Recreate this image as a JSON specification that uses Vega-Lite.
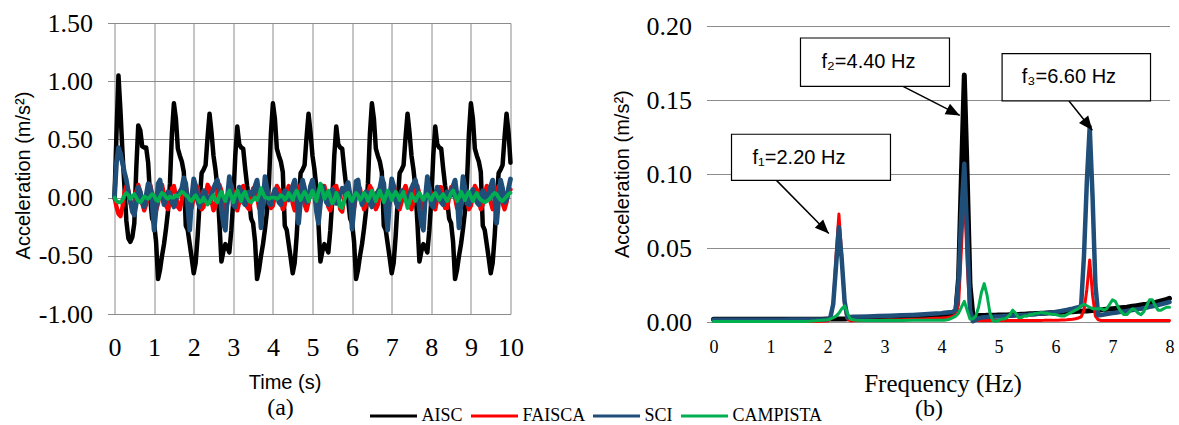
{
"$schema": "https://vega.github.io/schema/vega-lite/v6.json",
"padding": {"left": 12.5, "top": 10, "right": 5, "bottom": 0},
"background": "white",
"bounds": "flush",
"spacing": 203,
"resolve": {"scale": {"color": "shared"}, "legend": {"color": "shared"}},
"datasets": {
"ta": [
{"t":0.00,"AISC":0.00,"FAISCA":0.00,"SCI":0.00,"CAMPISTA":0.00},
{"t":0.05,"AISC":0.55,"FAISCA":-0.08,"SCI":0.30,"CAMPISTA":-0.03},
{"t":0.10,"AISC":1.05,"FAISCA":-0.14,"SCI":0.43,"CAMPISTA":-0.04},
{"t":0.15,"AISC":0.75,"FAISCA":-0.16,"SCI":0.38,"CAMPISTA":-0.04},
{"t":0.20,"AISC":0.40,"FAISCA":-0.08,"SCI":0.30,"CAMPISTA":-0.02},
{"t":0.25,"AISC":0.10,"FAISCA":0.04,"SCI":0.22,"CAMPISTA":0.02},
{"t":0.30,"AISC":-0.20,"FAISCA":0.10,"SCI":0.15,"CAMPISTA":0.04},
{"t":0.35,"AISC":-0.35,"FAISCA":0.06,"SCI":0.05,"CAMPISTA":0.02},
{"t":0.40,"AISC":-0.38,"FAISCA":-0.04,"SCI":-0.03,"CAMPISTA":-0.01},
{"t":0.45,"AISC":-0.34,"FAISCA":-0.10,"SCI":-0.12,"CAMPISTA":0.01},
{"t":0.50,"AISC":-0.22,"FAISCA":-0.07,"SCI":-0.15,"CAMPISTA":0.03},
{"t":0.55,"AISC":0.25,"FAISCA":0.05,"SCI":-0.05,"CAMPISTA":0.00},
{"t":0.60,"AISC":0.62,"FAISCA":0.11,"SCI":0.09,"CAMPISTA":-0.03},
{"t":0.65,"AISC":0.58,"FAISCA":0.05,"SCI":0.05,"CAMPISTA":-0.04},
{"t":0.70,"AISC":0.44,"FAISCA":-0.05,"SCI":-0.04,"CAMPISTA":-0.02},
{"t":0.75,"AISC":0.43,"FAISCA":-0.11,"SCI":-0.08,"CAMPISTA":0.01},
{"t":0.80,"AISC":0.43,"FAISCA":-0.06,"SCI":0.02,"CAMPISTA":0.00},
{"t":0.85,"AISC":0.30,"FAISCA":0.06,"SCI":0.12,"CAMPISTA":-0.01},
{"t":0.90,"AISC":0.00,"FAISCA":0.11,"SCI":0.10,"CAMPISTA":0.01},
{"t":0.95,"AISC":-0.18,"FAISCA":0.04,"SCI":-0.05,"CAMPISTA":0.03},
{"t":1.00,"AISC":-0.22,"FAISCA":-0.06,"SCI":-0.28,"CAMPISTA":0.02},
{"t":1.05,"AISC":-0.38,"FAISCA":-0.11,"SCI":-0.10,"CAMPISTA":-0.02},
{"t":1.10,"AISC":-0.70,"FAISCA":-0.05,"SCI":0.12,"CAMPISTA":-0.03},
{"t":1.15,"AISC":-0.62,"FAISCA":0.07,"SCI":0.15,"CAMPISTA":0.01},
{"t":1.20,"AISC":-0.50,"FAISCA":0.11,"SCI":0.02,"CAMPISTA":0.04},
{"t":1.25,"AISC":-0.40,"FAISCA":0.03,"SCI":-0.06,"CAMPISTA":0.03},
{"t":1.30,"AISC":-0.27,"FAISCA":-0.07,"SCI":-0.02,"CAMPISTA":0.00},
{"t":1.35,"AISC":-0.12,"FAISCA":-0.10,"SCI":0.05,"CAMPISTA":-0.01},
{"t":1.40,"AISC":0.12,"FAISCA":-0.03,"SCI":0.04,"CAMPISTA":0.01},
{"t":1.45,"AISC":0.55,"FAISCA":0.08,"SCI":-0.04,"CAMPISTA":0.00},
{"t":1.50,"AISC":0.81,"FAISCA":0.10,"SCI":-0.08,"CAMPISTA":0.00},
{"t":1.55,"AISC":0.68,"FAISCA":0.02,"SCI":-0.02,"CAMPISTA":0.02},
{"t":1.60,"AISC":0.42,"FAISCA":-0.08,"SCI":0.03,"CAMPISTA":0.01},
{"t":1.65,"AISC":0.36,"FAISCA":-0.10,"SCI":0.05,"CAMPISTA":0.03},
{"t":1.70,"AISC":0.31,"FAISCA":-0.02,"SCI":0.08,"CAMPISTA":0.05},
{"t":1.75,"AISC":0.22,"FAISCA":0.09,"SCI":0.17,"CAMPISTA":0.04},
{"t":1.80,"AISC":-0.24,"FAISCA":0.10,"SCI":0.12,"CAMPISTA":0.02},
{"t":1.85,"AISC":-0.28,"FAISCA":0.01,"SCI":-0.08,"CAMPISTA":0.01},
{"t":1.90,"AISC":-0.40,"FAISCA":-0.09,"SCI":-0.28,"CAMPISTA":-0.02},
{"t":1.95,"AISC":-0.52,"FAISCA":-0.09,"SCI":0.00,"CAMPISTA":-0.03},
{"t":2.00,"AISC":-0.65,"FAISCA":0.00,"SCI":0.16,"CAMPISTA":0.00},
{"t":2.05,"AISC":-0.56,"FAISCA":0.10,"SCI":0.10,"CAMPISTA":0.02},
{"t":2.10,"AISC":-0.33,"FAISCA":0.09,"SCI":-0.03,"CAMPISTA":-0.01},
{"t":2.15,"AISC":-0.04,"FAISCA":-0.01,"SCI":-0.08,"CAMPISTA":-0.04},
{"t":2.20,"AISC":0.21,"FAISCA":-0.10,"SCI":0.00,"CAMPISTA":-0.03},
{"t":2.25,"AISC":0.24,"FAISCA":-0.08,"SCI":0.06,"CAMPISTA":0.00},
{"t":2.30,"AISC":0.28,"FAISCA":0.02,"SCI":0.04,"CAMPISTA":-0.03},
{"t":2.35,"AISC":0.52,"FAISCA":0.11,"SCI":-0.02,"CAMPISTA":-0.06},
{"t":2.40,"AISC":0.72,"FAISCA":0.08,"SCI":-0.04,"CAMPISTA":-0.04},
{"t":2.45,"AISC":0.56,"FAISCA":-0.03,"SCI":0.02,"CAMPISTA":0.00},
{"t":2.50,"AISC":0.36,"FAISCA":-0.11,"SCI":0.08,"CAMPISTA":0.02},
{"t":2.55,"AISC":0.24,"FAISCA":-0.07,"SCI":0.12,"CAMPISTA":-0.02},
{"t":2.60,"AISC":0.08,"FAISCA":0.04,"SCI":0.15,"CAMPISTA":-0.04},
{"t":2.65,"AISC":-0.22,"FAISCA":0.11,"SCI":0.06,"CAMPISTA":0.02},
{"t":2.70,"AISC":-0.55,"FAISCA":0.06,"SCI":-0.10,"CAMPISTA":0.05},
{"t":2.75,"AISC":-0.46,"FAISCA":-0.05,"SCI":-0.22,"CAMPISTA":0.01},
{"t":2.80,"AISC":-0.40,"FAISCA":-0.11,"SCI":-0.28,"CAMPISTA":-0.03},
{"t":2.85,"AISC":-0.43,"FAISCA":-0.05,"SCI":0.00,"CAMPISTA":0.03},
{"t":2.90,"AISC":-0.47,"FAISCA":0.06,"SCI":0.18,"CAMPISTA":0.06},
{"t":2.95,"AISC":-0.28,"FAISCA":0.11,"SCI":0.06,"CAMPISTA":0.01},
{"t":3.00,"AISC":-0.02,"FAISCA":0.04,"SCI":-0.06,"CAMPISTA":-0.04},
{"t":3.05,"AISC":0.36,"FAISCA":-0.06,"SCI":-0.08,"CAMPISTA":0.02},
{"t":3.10,"AISC":0.61,"FAISCA":-0.11,"SCI":0.02,"CAMPISTA":0.06},
{"t":3.15,"AISC":0.46,"FAISCA":-0.04,"SCI":0.09,"CAMPISTA":0.02},
{"t":3.20,"AISC":0.43,"FAISCA":0.07,"SCI":0.05,"CAMPISTA":-0.03},
{"t":3.25,"AISC":0.42,"FAISCA":0.10,"SCI":-0.04,"CAMPISTA":0.03},
{"t":3.30,"AISC":0.25,"FAISCA":0.02,"SCI":-0.06,"CAMPISTA":0.05},
{"t":3.35,"AISC":0.10,"FAISCA":-0.08,"SCI":0.01,"CAMPISTA":0.00},
{"t":3.40,"AISC":-0.02,"FAISCA":-0.10,"SCI":0.05,"CAMPISTA":-0.03},
{"t":3.45,"AISC":-0.18,"FAISCA":-0.02,"SCI":0.03,"CAMPISTA":-0.04},
{"t":3.50,"AISC":-0.22,"FAISCA":0.08,"SCI":0.02,"CAMPISTA":-0.02},
{"t":3.55,"AISC":-0.38,"FAISCA":0.09,"SCI":0.10,"CAMPISTA":0.00},
{"t":3.60,"AISC":-0.70,"FAISCA":0.01,"SCI":0.15,"CAMPISTA":-0.02},
{"t":3.65,"AISC":-0.62,"FAISCA":-0.09,"SCI":0.02,"CAMPISTA":0.02},
{"t":3.70,"AISC":-0.50,"FAISCA":-0.09,"SCI":-0.26,"CAMPISTA":0.08},
{"t":3.75,"AISC":-0.40,"FAISCA":0.00,"SCI":-0.05,"CAMPISTA":0.04},
{"t":3.80,"AISC":-0.27,"FAISCA":0.09,"SCI":0.18,"CAMPISTA":0.00},
{"t":3.85,"AISC":-0.12,"FAISCA":0.08,"SCI":0.08,"CAMPISTA":0.00},
{"t":3.90,"AISC":0.12,"FAISCA":-0.01,"SCI":-0.05,"CAMPISTA":-0.01},
{"t":3.95,"AISC":0.55,"FAISCA":-0.09,"SCI":-0.06,"CAMPISTA":0.00},
{"t":4.00,"AISC":0.81,"FAISCA":-0.07,"SCI":0.02,"CAMPISTA":0.00},
{"t":4.05,"AISC":0.68,"FAISCA":0.02,"SCI":0.07,"CAMPISTA":0.00},
{"t":4.10,"AISC":0.42,"FAISCA":0.10,"SCI":0.03,"CAMPISTA":-0.01},
{"t":4.15,"AISC":0.36,"FAISCA":0.07,"SCI":-0.04,"CAMPISTA":0.00},
{"t":4.20,"AISC":0.31,"FAISCA":-0.03,"SCI":-0.06,"CAMPISTA":0.02},
{"t":4.25,"AISC":0.22,"FAISCA":-0.10,"SCI":0.00,"CAMPISTA":0.01},
{"t":4.30,"AISC":-0.24,"FAISCA":-0.06,"SCI":0.06,"CAMPISTA":-0.02},
{"t":4.35,"AISC":-0.28,"FAISCA":0.04,"SCI":0.04,"CAMPISTA":0.00},
{"t":4.40,"AISC":-0.40,"FAISCA":0.10,"SCI":-0.02,"CAMPISTA":0.04},
{"t":4.45,"AISC":-0.52,"FAISCA":0.05,"SCI":0.02,"CAMPISTA":0.01},
{"t":4.50,"AISC":-0.65,"FAISCA":-0.05,"SCI":0.10,"CAMPISTA":-0.02},
{"t":4.55,"AISC":-0.56,"FAISCA":-0.11,"SCI":0.15,"CAMPISTA":0.03},
{"t":4.60,"AISC":-0.33,"FAISCA":-0.05,"SCI":0.00,"CAMPISTA":0.06},
{"t":4.65,"AISC":-0.04,"FAISCA":0.06,"SCI":-0.22,"CAMPISTA":0.02},
{"t":4.70,"AISC":0.21,"FAISCA":0.11,"SCI":-0.02,"CAMPISTA":-0.02},
{"t":4.75,"AISC":0.24,"FAISCA":0.04,"SCI":0.15,"CAMPISTA":0.02},
{"t":4.80,"AISC":0.28,"FAISCA":-0.06,"SCI":0.08,"CAMPISTA":0.05},
{"t":4.85,"AISC":0.52,"FAISCA":-0.11,"SCI":-0.04,"CAMPISTA":0.02},
{"t":4.90,"AISC":0.72,"FAISCA":-0.04,"SCI":-0.02,"CAMPISTA":-0.03},
{"t":4.95,"AISC":0.56,"FAISCA":0.07,"SCI":0.10,"CAMPISTA":0.02},
{"t":5.00,"AISC":0.36,"FAISCA":0.11,"SCI":0.15,"CAMPISTA":0.06},
{"t":5.05,"AISC":0.24,"FAISCA":0.03,"SCI":0.05,"CAMPISTA":0.01},
{"t":5.10,"AISC":0.08,"FAISCA":-0.07,"SCI":-0.12,"CAMPISTA":-0.03},
{"t":5.15,"AISC":-0.22,"FAISCA":-0.11,"SCI":-0.22,"CAMPISTA":0.05},
{"t":5.20,"AISC":-0.55,"FAISCA":-0.03,"SCI":-0.05,"CAMPISTA":0.12},
{"t":5.25,"AISC":-0.46,"FAISCA":0.08,"SCI":0.10,"CAMPISTA":0.06},
{"t":5.30,"AISC":-0.40,"FAISCA":0.10,"SCI":0.05,"CAMPISTA":-0.01},
{"t":5.35,"AISC":-0.43,"FAISCA":0.02,"SCI":-0.04,"CAMPISTA":0.02},
{"t":5.40,"AISC":-0.47,"FAISCA":-0.08,"SCI":-0.06,"CAMPISTA":0.06},
{"t":5.45,"AISC":-0.28,"FAISCA":-0.11,"SCI":0.02,"CAMPISTA":0.00},
{"t":5.50,"AISC":-0.02,"FAISCA":-0.02,"SCI":0.07,"CAMPISTA":-0.05},
{"t":5.55,"AISC":0.36,"FAISCA":0.09,"SCI":0.03,"CAMPISTA":-0.02},
{"t":5.60,"AISC":0.61,"FAISCA":0.10,"SCI":-0.05,"CAMPISTA":0.04},
{"t":5.65,"AISC":0.46,"FAISCA":0.01,"SCI":-0.04,"CAMPISTA":0.00},
{"t":5.70,"AISC":0.43,"FAISCA":-0.10,"SCI":0.03,"CAMPISTA":-0.08},
{"t":5.75,"AISC":0.42,"FAISCA":-0.12,"SCI":0.08,"CAMPISTA":-0.09},
{"t":5.80,"AISC":0.25,"FAISCA":-0.01,"SCI":0.05,"CAMPISTA":-0.03},
{"t":5.85,"AISC":0.10,"FAISCA":0.10,"SCI":0.10,"CAMPISTA":0.03},
{"t":5.90,"AISC":-0.02,"FAISCA":0.09,"SCI":0.13,"CAMPISTA":0.04},
{"t":5.95,"AISC":-0.18,"FAISCA":-0.01,"SCI":0.02,"CAMPISTA":0.00},
{"t":6.00,"AISC":-0.22,"FAISCA":-0.10,"SCI":-0.27,"CAMPISTA":-0.03},
{"t":6.05,"AISC":-0.38,"FAISCA":-0.09,"SCI":-0.08,"CAMPISTA":0.01},
{"t":6.10,"AISC":-0.70,"FAISCA":0.01,"SCI":0.14,"CAMPISTA":0.04},
{"t":6.15,"AISC":-0.62,"FAISCA":0.10,"SCI":0.15,"CAMPISTA":0.02},
{"t":6.20,"AISC":-0.50,"FAISCA":0.08,"SCI":0.02,"CAMPISTA":-0.02},
{"t":6.25,"AISC":-0.40,"FAISCA":-0.02,"SCI":-0.06,"CAMPISTA":0.00},
{"t":6.30,"AISC":-0.27,"FAISCA":-0.10,"SCI":-0.02,"CAMPISTA":0.04},
{"t":6.35,"AISC":-0.12,"FAISCA":-0.07,"SCI":0.05,"CAMPISTA":0.02},
{"t":6.40,"AISC":0.12,"FAISCA":0.03,"SCI":0.04,"CAMPISTA":-0.03},
{"t":6.45,"AISC":0.55,"FAISCA":0.10,"SCI":-0.04,"CAMPISTA":0.01},
{"t":6.50,"AISC":0.81,"FAISCA":0.07,"SCI":-0.08,"CAMPISTA":0.06},
{"t":6.55,"AISC":0.68,"FAISCA":-0.03,"SCI":-0.02,"CAMPISTA":0.02},
{"t":6.60,"AISC":0.42,"FAISCA":-0.10,"SCI":0.03,"CAMPISTA":-0.03},
{"t":6.65,"AISC":0.36,"FAISCA":-0.06,"SCI":0.05,"CAMPISTA":0.02},
{"t":6.70,"AISC":0.31,"FAISCA":0.04,"SCI":0.08,"CAMPISTA":0.06},
{"t":6.75,"AISC":0.22,"FAISCA":0.10,"SCI":0.17,"CAMPISTA":0.01},
{"t":6.80,"AISC":-0.24,"FAISCA":0.06,"SCI":0.12,"CAMPISTA":-0.04},
{"t":6.85,"AISC":-0.28,"FAISCA":-0.04,"SCI":-0.08,"CAMPISTA":0.01},
{"t":6.90,"AISC":-0.40,"FAISCA":-0.10,"SCI":-0.28,"CAMPISTA":0.06},
{"t":6.95,"AISC":-0.52,"FAISCA":-0.05,"SCI":0.00,"CAMPISTA":0.03},
{"t":7.00,"AISC":-0.65,"FAISCA":0.05,"SCI":0.16,"CAMPISTA":-0.02},
{"t":7.05,"AISC":-0.56,"FAISCA":0.10,"SCI":0.10,"CAMPISTA":0.02},
{"t":7.10,"AISC":-0.33,"FAISCA":0.05,"SCI":-0.03,"CAMPISTA":0.05},
{"t":7.15,"AISC":-0.04,"FAISCA":-0.05,"SCI":-0.08,"CAMPISTA":0.02},
{"t":7.20,"AISC":0.21,"FAISCA":-0.10,"SCI":0.00,"CAMPISTA":-0.02},
{"t":7.25,"AISC":0.24,"FAISCA":-0.04,"SCI":0.06,"CAMPISTA":0.02},
{"t":7.30,"AISC":0.28,"FAISCA":0.06,"SCI":0.04,"CAMPISTA":0.05},
{"t":7.35,"AISC":0.52,"FAISCA":0.10,"SCI":-0.02,"CAMPISTA":-0.02},
{"t":7.40,"AISC":0.72,"FAISCA":0.04,"SCI":-0.04,"CAMPISTA":-0.09},
{"t":7.45,"AISC":0.56,"FAISCA":-0.06,"SCI":0.02,"CAMPISTA":-0.04},
{"t":7.50,"AISC":0.36,"FAISCA":-0.10,"SCI":0.08,"CAMPISTA":0.03},
{"t":7.55,"AISC":0.24,"FAISCA":-0.03,"SCI":0.12,"CAMPISTA":0.00},
{"t":7.60,"AISC":0.08,"FAISCA":0.07,"SCI":0.15,"CAMPISTA":-0.03},
{"t":7.65,"AISC":-0.22,"FAISCA":0.10,"SCI":0.06,"CAMPISTA":0.01},
{"t":7.70,"AISC":-0.55,"FAISCA":0.03,"SCI":-0.10,"CAMPISTA":0.04},
{"t":7.75,"AISC":-0.46,"FAISCA":-0.07,"SCI":-0.22,"CAMPISTA":0.01},
{"t":7.80,"AISC":-0.40,"FAISCA":-0.10,"SCI":-0.28,"CAMPISTA":-0.02},
{"t":7.85,"AISC":-0.43,"FAISCA":-0.02,"SCI":0.00,"CAMPISTA":0.01},
{"t":7.90,"AISC":-0.47,"FAISCA":0.08,"SCI":0.18,"CAMPISTA":0.03},
{"t":7.95,"AISC":-0.28,"FAISCA":0.09,"SCI":0.06,"CAMPISTA":0.00},
{"t":8.00,"AISC":-0.02,"FAISCA":0.02,"SCI":-0.06,"CAMPISTA":-0.02},
{"t":8.05,"AISC":0.36,"FAISCA":-0.08,"SCI":-0.08,"CAMPISTA":0.02},
{"t":8.10,"AISC":0.61,"FAISCA":-0.10,"SCI":0.02,"CAMPISTA":0.04},
{"t":8.15,"AISC":0.46,"FAISCA":-0.01,"SCI":0.09,"CAMPISTA":0.01},
{"t":8.20,"AISC":0.43,"FAISCA":0.09,"SCI":0.05,"CAMPISTA":-0.02},
{"t":8.25,"AISC":0.42,"FAISCA":0.09,"SCI":-0.04,"CAMPISTA":0.01},
{"t":8.30,"AISC":0.25,"FAISCA":0.01,"SCI":-0.06,"CAMPISTA":0.03},
{"t":8.35,"AISC":0.10,"FAISCA":-0.09,"SCI":0.01,"CAMPISTA":0.00},
{"t":8.40,"AISC":-0.02,"FAISCA":-0.09,"SCI":0.05,"CAMPISTA":-0.03},
{"t":8.45,"AISC":-0.18,"FAISCA":0.00,"SCI":0.03,"CAMPISTA":0.00},
{"t":8.50,"AISC":-0.22,"FAISCA":0.09,"SCI":0.02,"CAMPISTA":0.04},
{"t":8.55,"AISC":-0.38,"FAISCA":0.08,"SCI":0.10,"CAMPISTA":0.06},
{"t":8.60,"AISC":-0.70,"FAISCA":0.00,"SCI":0.15,"CAMPISTA":0.02},
{"t":8.65,"AISC":-0.62,"FAISCA":-0.09,"SCI":0.02,"CAMPISTA":-0.03},
{"t":8.70,"AISC":-0.50,"FAISCA":-0.08,"SCI":-0.26,"CAMPISTA":0.00},
{"t":8.75,"AISC":-0.40,"FAISCA":0.01,"SCI":-0.05,"CAMPISTA":0.05},
{"t":8.80,"AISC":-0.27,"FAISCA":0.10,"SCI":0.18,"CAMPISTA":0.02},
{"t":8.85,"AISC":-0.12,"FAISCA":0.07,"SCI":0.08,"CAMPISTA":-0.02},
{"t":8.90,"AISC":0.12,"FAISCA":-0.02,"SCI":-0.05,"CAMPISTA":0.02},
{"t":8.95,"AISC":0.55,"FAISCA":-0.10,"SCI":-0.06,"CAMPISTA":0.05},
{"t":9.00,"AISC":0.81,"FAISCA":-0.07,"SCI":0.02,"CAMPISTA":0.01},
{"t":9.05,"AISC":0.68,"FAISCA":0.02,"SCI":0.07,"CAMPISTA":-0.03},
{"t":9.10,"AISC":0.42,"FAISCA":0.10,"SCI":0.03,"CAMPISTA":0.01},
{"t":9.15,"AISC":0.36,"FAISCA":0.07,"SCI":-0.04,"CAMPISTA":0.04},
{"t":9.20,"AISC":0.31,"FAISCA":-0.03,"SCI":-0.06,"CAMPISTA":0.00},
{"t":9.25,"AISC":0.22,"FAISCA":-0.10,"SCI":0.00,"CAMPISTA":-0.02},
{"t":9.30,"AISC":-0.24,"FAISCA":-0.06,"SCI":0.06,"CAMPISTA":-0.03},
{"t":9.35,"AISC":-0.28,"FAISCA":0.03,"SCI":0.04,"CAMPISTA":-0.04},
{"t":9.40,"AISC":-0.40,"FAISCA":0.10,"SCI":-0.02,"CAMPISTA":-0.03},
{"t":9.45,"AISC":-0.52,"FAISCA":0.06,"SCI":0.02,"CAMPISTA":-0.02},
{"t":9.50,"AISC":-0.65,"FAISCA":-0.04,"SCI":0.10,"CAMPISTA":0.00},
{"t":9.55,"AISC":-0.56,"FAISCA":-0.10,"SCI":0.15,"CAMPISTA":0.02},
{"t":9.60,"AISC":-0.33,"FAISCA":-0.05,"SCI":0.00,"CAMPISTA":0.04},
{"t":9.65,"AISC":-0.04,"FAISCA":0.04,"SCI":-0.22,"CAMPISTA":0.03},
{"t":9.70,"AISC":0.21,"FAISCA":0.10,"SCI":-0.02,"CAMPISTA":0.00},
{"t":9.75,"AISC":0.24,"FAISCA":0.05,"SCI":0.15,"CAMPISTA":-0.02},
{"t":9.80,"AISC":0.28,"FAISCA":-0.05,"SCI":0.08,"CAMPISTA":-0.03},
{"t":9.85,"AISC":0.52,"FAISCA":-0.10,"SCI":-0.04,"CAMPISTA":-0.01},
{"t":9.90,"AISC":0.72,"FAISCA":-0.04,"SCI":-0.02,"CAMPISTA":0.01},
{"t":9.95,"AISC":0.56,"FAISCA":0.05,"SCI":0.08,"CAMPISTA":0.03},
{"t":10.00,"AISC":0.30,"FAISCA":0.07,"SCI":0.16,"CAMPISTA":0.04}
],
"fb": [
{"f":0.0,"AISC":0.0018,"FAISCA":0.0003,"SCI":0.0016,"CAMPISTA":0.0003},
{"f":0.2,"AISC":0.0018,"FAISCA":0.0003,"SCI":0.0016,"CAMPISTA":0.0003},
{"f":0.4,"AISC":0.0018,"FAISCA":0.0003,"SCI":0.0016,"CAMPISTA":0.0003},
{"f":0.6,"AISC":0.0018,"FAISCA":0.0003,"SCI":0.0016,"CAMPISTA":0.0003},
{"f":0.8,"AISC":0.0018,"FAISCA":0.0003,"SCI":0.0016,"CAMPISTA":0.0003},
{"f":1.0,"AISC":0.0018,"FAISCA":0.0003,"SCI":0.0016,"CAMPISTA":0.0003},
{"f":1.2,"AISC":0.0018,"FAISCA":0.0003,"SCI":0.0016,"CAMPISTA":0.0003},
{"f":1.4,"AISC":0.0019,"FAISCA":0.0003,"SCI":0.0017,"CAMPISTA":0.0003},
{"f":1.6,"AISC":0.0019,"FAISCA":0.0004,"SCI":0.0017,"CAMPISTA":0.0003},
{"f":1.7,"AISC":0.0019,"FAISCA":0.0004,"SCI":0.0017,"CAMPISTA":0.0005},
{"f":1.8,"AISC":0.0019,"FAISCA":0.0004,"SCI":0.0017,"CAMPISTA":0.0008},
{"f":1.9,"AISC":0.0019,"FAISCA":0.0005,"SCI":0.0017,"CAMPISTA":0.0012},
{"f":2.0,"AISC":0.0020,"FAISCA":0.0006,"SCI":0.0018,"CAMPISTA":0.0015},
{"f":2.05,"AISC":0.0020,"FAISCA":0.002,"SCI":0.003,"CAMPISTA":0.002},
{"f":2.10,"AISC":0.0020,"FAISCA":0.012,"SCI":0.012,"CAMPISTA":0.003},
{"f":2.15,"AISC":0.0020,"FAISCA":0.045,"SCI":0.038,"CAMPISTA":0.004},
{"f":2.20,"AISC":0.0021,"FAISCA":0.073,"SCI":0.064,"CAMPISTA":0.006},
{"f":2.25,"AISC":0.0021,"FAISCA":0.045,"SCI":0.042,"CAMPISTA":0.009},
{"f":2.30,"AISC":0.0021,"FAISCA":0.010,"SCI":0.014,"CAMPISTA":0.011},
{"f":2.35,"AISC":0.0022,"FAISCA":0.002,"SCI":0.003,"CAMPISTA":0.006},
{"f":2.40,"AISC":0.0022,"FAISCA":0.0009,"SCI":0.0034,"CAMPISTA":0.002},
{"f":2.45,"AISC":0.0022,"FAISCA":0.0009,"SCI":0.0035,"CAMPISTA":0.0015},
{"f":2.5,"AISC":0.0023,"FAISCA":0.0010,"SCI":0.0036,"CAMPISTA":0.0012},
{"f":2.7,"AISC":0.0024,"FAISCA":0.0011,"SCI":0.0038,"CAMPISTA":0.0010},
{"f":2.9,"AISC":0.0025,"FAISCA":0.0012,"SCI":0.0040,"CAMPISTA":0.0010},
{"f":3.1,"AISC":0.0026,"FAISCA":0.0014,"SCI":0.0042,"CAMPISTA":0.0011},
{"f":3.3,"AISC":0.0028,"FAISCA":0.0016,"SCI":0.0045,"CAMPISTA":0.0010},
{"f":3.5,"AISC":0.0030,"FAISCA":0.0018,"SCI":0.0048,"CAMPISTA":0.0012},
{"f":3.7,"AISC":0.0033,"FAISCA":0.0021,"SCI":0.0052,"CAMPISTA":0.0011},
{"f":3.9,"AISC":0.0036,"FAISCA":0.0025,"SCI":0.0057,"CAMPISTA":0.0012},
{"f":4.0,"AISC":0.0038,"FAISCA":0.0027,"SCI":0.0060,"CAMPISTA":0.0012},
{"f":4.05,"AISC":0.0040,"FAISCA":0.0029,"SCI":0.0062,"CAMPISTA":0.0012},
{"f":4.10,"AISC":0.0042,"FAISCA":0.0031,"SCI":0.0064,"CAMPISTA":0.0015},
{"f":4.15,"AISC":0.0045,"FAISCA":0.0034,"SCI":0.0066,"CAMPISTA":0.002},
{"f":4.20,"AISC":0.0050,"FAISCA":0.0038,"SCI":0.0068,"CAMPISTA":0.003},
{"f":4.25,"AISC":0.0065,"FAISCA":0.005,"SCI":0.0085,"CAMPISTA":0.004},
{"f":4.30,"AISC":0.030,"FAISCA":0.012,"SCI":0.028,"CAMPISTA":0.006},
{"f":4.35,"AISC":0.100,"FAISCA":0.050,"SCI":0.075,"CAMPISTA":0.010},
{"f":4.40,"AISC":0.167,"FAISCA":0.090,"SCI":0.107,"CAMPISTA":0.014},
{"f":4.45,"AISC":0.100,"FAISCA":0.040,"SCI":0.060,"CAMPISTA":0.008},
{"f":4.50,"AISC":0.025,"FAISCA":0.004,"SCI":0.008,"CAMPISTA":0.002},
{"f":4.55,"AISC":0.0048,"FAISCA":0.001,"SCI":0.0005,"CAMPISTA":0.002},
{"f":4.60,"AISC":0.0045,"FAISCA":0.001,"SCI":0.0015,"CAMPISTA":0.004},
{"f":4.65,"AISC":0.0044,"FAISCA":0.001,"SCI":0.0025,"CAMPISTA":0.010},
{"f":4.70,"AISC":0.0044,"FAISCA":0.001,"SCI":0.0030,"CAMPISTA":0.020},
{"f":4.75,"AISC":0.0044,"FAISCA":0.001,"SCI":0.0032,"CAMPISTA":0.026},
{"f":4.80,"AISC":0.0045,"FAISCA":0.001,"SCI":0.0034,"CAMPISTA":0.018},
{"f":4.85,"AISC":0.0045,"FAISCA":0.001,"SCI":0.0035,"CAMPISTA":0.006},
{"f":4.90,"AISC":0.0046,"FAISCA":0.001,"SCI":0.0036,"CAMPISTA":0.001},
{"f":4.95,"AISC":0.0046,"FAISCA":0.001,"SCI":0.0037,"CAMPISTA":0.0005},
{"f":5.00,"AISC":0.0047,"FAISCA":0.001,"SCI":0.0038,"CAMPISTA":0.001},
{"f":5.05,"AISC":0.0047,"FAISCA":0.001,"SCI":0.0039,"CAMPISTA":0.002},
{"f":5.10,"AISC":0.0048,"FAISCA":0.001,"SCI":0.0040,"CAMPISTA":0.002},
{"f":5.15,"AISC":0.0048,"FAISCA":0.001,"SCI":0.0041,"CAMPISTA":0.003},
{"f":5.20,"AISC":0.0049,"FAISCA":0.001,"SCI":0.0042,"CAMPISTA":0.005},
{"f":5.25,"AISC":0.0050,"FAISCA":0.001,"SCI":0.0043,"CAMPISTA":0.008},
{"f":5.30,"AISC":0.0050,"FAISCA":0.001,"SCI":0.0044,"CAMPISTA":0.006},
{"f":5.35,"AISC":0.0051,"FAISCA":0.001,"SCI":0.0045,"CAMPISTA":0.003},
{"f":5.40,"AISC":0.0052,"FAISCA":0.001,"SCI":0.0046,"CAMPISTA":0.003},
{"f":5.45,"AISC":0.0053,"FAISCA":0.001,"SCI":0.0047,"CAMPISTA":0.004},
{"f":5.50,"AISC":0.0054,"FAISCA":0.001,"SCI":0.0048,"CAMPISTA":0.004},
{"f":5.55,"AISC":0.0055,"FAISCA":0.001,"SCI":0.0050,"CAMPISTA":0.005},
{"f":5.60,"AISC":0.0056,"FAISCA":0.001,"SCI":0.0051,"CAMPISTA":0.005},
{"f":5.65,"AISC":0.0057,"FAISCA":0.001,"SCI":0.0053,"CAMPISTA":0.006},
{"f":5.70,"AISC":0.0058,"FAISCA":0.001,"SCI":0.0055,"CAMPISTA":0.006},
{"f":5.75,"AISC":0.0059,"FAISCA":0.001,"SCI":0.0057,"CAMPISTA":0.0065},
{"f":5.80,"AISC":0.0060,"FAISCA":0.0011,"SCI":0.0059,"CAMPISTA":0.006},
{"f":5.85,"AISC":0.0061,"FAISCA":0.0011,"SCI":0.0061,"CAMPISTA":0.006},
{"f":5.90,"AISC":0.0062,"FAISCA":0.0011,"SCI":0.0063,"CAMPISTA":0.0055},
{"f":5.95,"AISC":0.0063,"FAISCA":0.0011,"SCI":0.0065,"CAMPISTA":0.005},
{"f":6.00,"AISC":0.0064,"FAISCA":0.0012,"SCI":0.0068,"CAMPISTA":0.005},
{"f":6.05,"AISC":0.0065,"FAISCA":0.0012,"SCI":0.0071,"CAMPISTA":0.0045},
{"f":6.10,"AISC":0.0066,"FAISCA":0.0013,"SCI":0.0074,"CAMPISTA":0.004},
{"f":6.15,"AISC":0.0067,"FAISCA":0.0014,"SCI":0.0078,"CAMPISTA":0.004},
{"f":6.20,"AISC":0.0068,"FAISCA":0.0015,"SCI":0.0082,"CAMPISTA":0.005},
{"f":6.25,"AISC":0.0069,"FAISCA":0.0017,"SCI":0.0086,"CAMPISTA":0.006},
{"f":6.30,"AISC":0.0070,"FAISCA":0.0019,"SCI":0.0090,"CAMPISTA":0.007},
{"f":6.35,"AISC":0.0071,"FAISCA":0.0022,"SCI":0.0095,"CAMPISTA":0.008},
{"f":6.40,"AISC":0.0072,"FAISCA":0.0027,"SCI":0.0100,"CAMPISTA":0.009},
{"f":6.45,"AISC":0.0073,"FAISCA":0.0035,"SCI":0.0110,"CAMPISTA":0.011},
{"f":6.50,"AISC":0.0074,"FAISCA":0.008,"SCI":0.045,"CAMPISTA":0.012},
{"f":6.55,"AISC":0.0075,"FAISCA":0.022,"SCI":0.095,"CAMPISTA":0.011},
{"f":6.60,"AISC":0.0076,"FAISCA":0.042,"SCI":0.132,"CAMPISTA":0.010},
{"f":6.65,"AISC":0.0077,"FAISCA":0.018,"SCI":0.085,"CAMPISTA":0.009},
{"f":6.70,"AISC":0.0078,"FAISCA":0.004,"SCI":0.025,"CAMPISTA":0.009},
{"f":6.75,"AISC":0.0080,"FAISCA":0.0015,"SCI":0.0045,"CAMPISTA":0.009},
{"f":6.80,"AISC":0.0082,"FAISCA":0.001,"SCI":0.0048,"CAMPISTA":0.009},
{"f":6.85,"AISC":0.0084,"FAISCA":0.001,"SCI":0.0051,"CAMPISTA":0.008},
{"f":6.90,"AISC":0.0086,"FAISCA":0.001,"SCI":0.0054,"CAMPISTA":0.009},
{"f":6.95,"AISC":0.0088,"FAISCA":0.001,"SCI":0.0057,"CAMPISTA":0.012},
{"f":7.00,"AISC":0.0090,"FAISCA":0.001,"SCI":0.0060,"CAMPISTA":0.015},
{"f":7.05,"AISC":0.0092,"FAISCA":0.001,"SCI":0.0063,"CAMPISTA":0.014},
{"f":7.10,"AISC":0.0094,"FAISCA":0.001,"SCI":0.0066,"CAMPISTA":0.010},
{"f":7.15,"AISC":0.0096,"FAISCA":0.001,"SCI":0.0069,"CAMPISTA":0.007},
{"f":7.20,"AISC":0.0098,"FAISCA":0.001,"SCI":0.0072,"CAMPISTA":0.005},
{"f":7.25,"AISC":0.0100,"FAISCA":0.001,"SCI":0.0075,"CAMPISTA":0.005},
{"f":7.30,"AISC":0.0103,"FAISCA":0.001,"SCI":0.0078,"CAMPISTA":0.007},
{"f":7.35,"AISC":0.0106,"FAISCA":0.001,"SCI":0.0081,"CAMPISTA":0.009},
{"f":7.40,"AISC":0.0109,"FAISCA":0.001,"SCI":0.0084,"CAMPISTA":0.008},
{"f":7.45,"AISC":0.0112,"FAISCA":0.001,"SCI":0.0087,"CAMPISTA":0.006},
{"f":7.50,"AISC":0.0115,"FAISCA":0.001,"SCI":0.0090,"CAMPISTA":0.005},
{"f":7.55,"AISC":0.0118,"FAISCA":0.001,"SCI":0.0094,"CAMPISTA":0.007},
{"f":7.60,"AISC":0.0121,"FAISCA":0.001,"SCI":0.0098,"CAMPISTA":0.011},
{"f":7.65,"AISC":0.0125,"FAISCA":0.001,"SCI":0.0102,"CAMPISTA":0.015},
{"f":7.70,"AISC":0.0129,"FAISCA":0.001,"SCI":0.0106,"CAMPISTA":0.015},
{"f":7.75,"AISC":0.0133,"FAISCA":0.001,"SCI":0.0110,"CAMPISTA":0.011},
{"f":7.80,"AISC":0.0138,"FAISCA":0.001,"SCI":0.0115,"CAMPISTA":0.008},
{"f":7.85,"AISC":0.0143,"FAISCA":0.001,"SCI":0.0120,"CAMPISTA":0.008},
{"f":7.90,"AISC":0.0148,"FAISCA":0.001,"SCI":0.0125,"CAMPISTA":0.009},
{"f":7.95,"AISC":0.0153,"FAISCA":0.001,"SCI":0.0130,"CAMPISTA":0.010},
{"f":8.00,"AISC":0.0160,"FAISCA":0.001,"SCI":0.0135,"CAMPISTA":0.010}
],
"boxes": [
{"f":0.316,"f2":3.105,"v":0.1270,"v2":0.0958},
{"f":1.526,"f2":4.140,"v":0.1921,"v2":0.1594},
{"f":5.063,"f2":7.667,"v":0.1815,"v2":0.1495}
],
"labels": [
{"f":0.684,"v":0.1107,"label":"f₁=2.20 Hz"},
{"f":1.895,"v":0.1757,"label":"f₂=4.40 Hz"},
{"f":5.409,"v":0.1657,"label":"f₃=6.60 Hz"}
],
"arrows": [
{"f":1.105,"v":0.0958,"f2":2.023,"v2":0.0598},
{"f":3.325,"v":0.1594,"f2":4.321,"v2":0.1397},
{"f":6.237,"v":0.1495,"f2":6.646,"v2":0.1297}
]
},
"hconcat": [
{
"width": 396,
"height": 291,
"data": {"name": "ta"},
"transform": [{"fold": ["AISC","FAISCA","SCI","CAMPISTA"], "as": ["s","v"]}],
"title": {"text": "(a)", "orient": "bottom", "anchor": "middle", "frame": "group", "font": "Liberation Serif", "fontSize": 24, "fontWeight": "normal", "color": "#000", "dx": -32, "offset": 4},
"encoding": {
"x": {"field": "t", "type": "quantitative", "scale": {"domain": [0,10], "nice": false},
 "axis": {"values": [0,1,2,3,4,5,6,7,8,9,10], "grid": true, "ticks": false, "labelFontSize": 26, "labelPadding": 33, "labelBaseline": "middle", "labelFlush": false, "labelOverlap": false,
 "title": "Time (s)", "titleFont": "Liberation Sans", "titleFontSize": 20, "titleX": 170, "titleY": 68, "titleBaseline": "middle"}},
"y": {"field": "v", "type": "quantitative", "scale": {"domain": [-1,1.5], "nice": false},
 "axis": {"values": [-1,-0.5,0,0.5,1,1.5], "grid": true, "ticks": true, "tickSize": 7, "labelFontSize": 26, "labelPadding": 15, "labelFlush": false, "labelOverlap": false,
 "labelExpr": "datum.value < 0 ? '-' + format(-datum.value, '.2f') : format(datum.value, '.2f')",
 "title": "Acceleration  (m/s²)", "titleFont": "Liberation Sans", "titleFontSize": 20, "titleX": -91.5, "titleY": 152, "titleBaseline": "middle", "titleAngle": -90}},
"color": {"field": "s", "type": "nominal", "scale": {"domain": ["AISC","FAISCA","SCI","CAMPISTA"], "range": ["#000000","#ff0000","#1f4e79","#00b050"]}, "legend": {"title": null}}
},
"layer": [
{"transform": [{"filter": "datum.s === 'AISC'"}], "mark": {"type": "line", "strokeWidth": 4.5, "strokeJoin": "round", "strokeCap": "round"}},
{"transform": [{"filter": "datum.s === 'FAISCA'"}], "mark": {"type": "line", "strokeWidth": 4.3, "strokeJoin": "round", "strokeCap": "round"}},
{"transform": [{"filter": "datum.s === 'SCI'"}], "mark": {"type": "line", "strokeWidth": 4.8, "strokeJoin": "round", "strokeCap": "round"}},
{"transform": [{"filter": "datum.s === 'CAMPISTA'"}], "mark": {"type": "line", "strokeWidth": 3.8, "strokeJoin": "round", "strokeCap": "round"}}
]
},
{
"width": 456,
"height": 299,
"title": {"text": "(b)", "orient": "bottom", "anchor": "middle", "frame": "group", "font": "Liberation Serif", "fontSize": 24, "fontWeight": "normal", "color": "#000", "dx": -12.5, "offset": 1},
"encoding": {
"x": {"field": "f", "type": "quantitative", "scale": {"domain": [0,8], "nice": false},
 "axis": {"values": [0,1,2,3,4,5,6,7,8], "grid": false, "ticks": false, "labelFontSize": 18, "labelPadding": 25, "labelBaseline": "middle", "labelFlush": false, "labelOverlap": false,
 "title": "Frequency (Hz)", "titleFont": "Liberation Serif", "titleFontSize": 25, "titleX": 229, "titleY": 61, "titleBaseline": "middle"}},
"y": {"field": "v", "type": "quantitative", "scale": {"domain": [0,0.20223], "nice": false},
 "axis": {"values": [0,0.05,0.1,0.15,0.2], "grid": true, "ticks": true, "tickSize": 7, "labelFontSize": 26, "labelPadding": 15, "labelFlush": false, "labelOverlap": false, "format": ".2f",
 "title": "Acceleration (m/s²)", "titleFont": "Liberation Sans", "titleFontSize": 20, "titleX": -91, "titleY": 150.7, "titleBaseline": "middle", "titleAngle": -90}}
},
"layer": [
{"data": {"values": [{"f":0},{"f":1},{"f":2},{"f":3},{"f":4},{"f":5},{"f":6},{"f":7},{"f":8}]},
 "mark": {"type": "rule", "color": "#8c8c8c", "strokeWidth": 1},
 "encoding": {"y": {"datum": 0}, "y2": {"datum": 0.2}}},
{"data": {"name": "fb"}, "transform": [{"fold": ["AISC","FAISCA","SCI","CAMPISTA"], "as": ["s","v"]}, {"filter": "datum.s === 'AISC'"}],
 "mark": {"type": "line", "strokeWidth": 5, "strokeJoin": "round", "strokeCap": "round"},
 "encoding": {"color": {"field": "s", "type": "nominal", "scale": {"domain": ["AISC","FAISCA","SCI","CAMPISTA"], "range": ["#000000","#ff0000","#1f4e79","#00b050"]}, "legend": {"title": null}}}},
{"data": {"name": "fb"}, "transform": [{"fold": ["AISC","FAISCA","SCI","CAMPISTA"], "as": ["s","v"]}, {"filter": "datum.s === 'FAISCA'"}],
 "mark": {"type": "line", "strokeWidth": 3, "strokeJoin": "round", "strokeCap": "round"},
 "encoding": {"color": {"field": "s", "type": "nominal", "scale": {"domain": ["AISC","FAISCA","SCI","CAMPISTA"], "range": ["#000000","#ff0000","#1f4e79","#00b050"]}, "legend": {"title": null}}}},
{"data": {"name": "fb"}, "transform": [{"fold": ["AISC","FAISCA","SCI","CAMPISTA"], "as": ["s","v"]}, {"filter": "datum.s === 'SCI'"}],
 "mark": {"type": "line", "strokeWidth": 4.5, "strokeJoin": "round", "strokeCap": "round"},
 "encoding": {"color": {"field": "s", "type": "nominal", "scale": {"domain": ["AISC","FAISCA","SCI","CAMPISTA"], "range": ["#000000","#ff0000","#1f4e79","#00b050"]}, "legend": {"title": null}}}},
{"data": {"name": "fb"}, "transform": [{"fold": ["AISC","FAISCA","SCI","CAMPISTA"], "as": ["s","v"]}, {"filter": "datum.s === 'CAMPISTA'"}],
 "mark": {"type": "line", "strokeWidth": 3, "strokeJoin": "round", "strokeCap": "round"},
 "encoding": {"color": {"field": "s", "type": "nominal", "scale": {"domain": ["AISC","FAISCA","SCI","CAMPISTA"], "range": ["#000000","#ff0000","#1f4e79","#00b050"]}, "legend": {"title": null}}}},
{"data": {"name": "arrows"}, "mark": {"type": "rule", "color": "#000", "strokeWidth": 1.5},
 "encoding": {"x2": {"field": "f2"}, "y2": {"field": "v2"}}},
{"data": {"name": "boxes"}, "mark": {"type": "rect", "fill": "white", "stroke": "#000", "strokeWidth": 1.2},
 "encoding": {"x2": {"field": "f2"}, "y2": {"field": "v2"}}},
{"data": {"name": "labels"}, "mark": {"type": "text", "align": "left", "baseline": "middle", "font": "Liberation Sans", "fontSize": 20, "color": "#000"},
 "encoding": {"text": {"field": "label"}}},
{"data": {"values": [{"f":2.023,"v":0.0598}]}, "mark": {"type": "point", "shape": "M0,0L0.42,1L-0.42,1Z", "filled": true, "color": "#000", "opacity": 1, "size": 784, "angle": 135.5}},
{"data": {"values": [{"f":4.321,"v":0.1397}]}, "mark": {"type": "point", "shape": "M0,0L0.42,1L-0.42,1Z", "filled": true, "color": "#000", "opacity": 1, "size": 784, "angle": 117}},
{"data": {"values": [{"f":6.646,"v":0.1297}]}, "mark": {"type": "point", "shape": "M0,0L0.42,1L-0.42,1Z", "filled": true, "color": "#000", "opacity": 1, "size": 784, "angle": 141.5}}
]
}
],
"config": {
"view": {"stroke": null},
"axis": {"domain": false, "labelColor": "#000", "titleColor": "#000", "titleFontWeight": "normal", "gridColor": "#8c8c8c", "gridWidth": 1, "tickColor": "#8c8c8c", "tickWidth": 1, "labelFont": "Liberation Serif"},
"legend": {"orient": "none", "legendX": 254, "legendY": 368, "direction": "horizontal", "symbolType": "stroke", "symbolSize": 2209, "symbolStrokeWidth": 3, "labelFont": "Liberation Serif", "labelFontSize": 18, "labelColor": "#000", "labelOffset": 3, "columnPadding": 1, "padding": 0}
}
}
